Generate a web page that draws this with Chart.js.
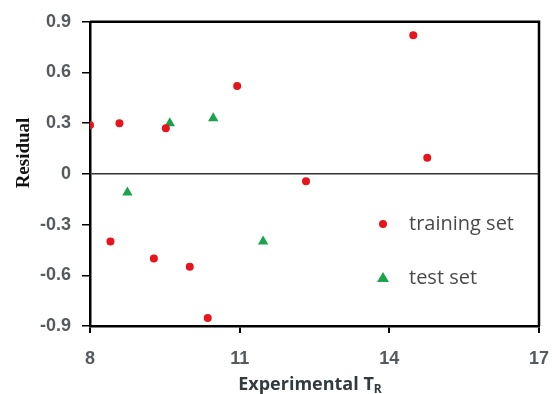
<!DOCTYPE html>
<html>
<head>
<meta charset="utf-8">
<script src="https://cdn.jsdelivr.net/npm/chart.js@4/dist/chart.umd.min.js"></script>
<style>
  html, body { margin: 0; padding: 0; background: #fff; }
  #wrap { width: 552px; height: 394px; }
</style>
</head>
<body>
<div id="wrap"><canvas id="chart" width="552" height="394"></canvas></div>
<script>
// values
const trainX = [8.0, 8.59, 9.52, 10.95, 14.48, 14.76, 12.33, 8.41, 9.28, 10.0, 10.36];
const trainY = [0.29, 0.30, 0.27, 0.52, 0.82, 0.095, -0.044, -0.40, -0.50, -0.55, -0.853];
const testX = [8.75, 9.6, 10.47, 11.47];
const testY = [-0.11, 0.30, 0.33, -0.40];
const xTicks = [8, 11, 14, 17];
const yTicks = [-0.9, -0.6, -0.3, 0, 0.3, 0.6, 0.9];
const seriesNames = ["training set", "test set"];

const toPts = (xs, ys) => xs.map((x, i) => ({ x: x, y: ys[i] }));

const tickColor = "#555a5e";
const tickFont = { family: "'Liberation Sans', Arial, sans-serif", size: 18, weight: "bold" };

// frame on top/right + legend + titles
const extras = {
  id: "extras",
  afterDraw(chart) {
    const ctx = chart.ctx;
    const a = chart.chartArea;
    ctx.save();
    ctx.strokeStyle = "#000";
    ctx.lineWidth = 2.5;
    ctx.beginPath();
    ctx.moveTo(a.left, a.top);
    ctx.lineTo(a.right, a.top);
    ctx.lineTo(a.right, a.bottom);
    ctx.stroke();

    // legend
    const items = [
      { y: 224, ds: chart.data.datasets[0] },
      { y: 278, ds: chart.data.datasets[1] }
    ];
    items.forEach(it => {
      ctx.fillStyle = it.ds.backgroundColor;
      ctx.beginPath();
      if (it.ds.pointStyle === "triangle") {
        ctx.moveTo(383, 272);
        ctx.lineTo(389, 282);
        ctx.lineTo(377, 282);
        ctx.closePath();
      } else {
        ctx.arc(383, it.y, 4, 0, Math.PI * 2);
      }
      ctx.fill();
      ctx.fillStyle = "#4a4a4a";
      ctx.font = "20px 'Open Sans', sans-serif";
      ctx.textBaseline = "middle";
      ctx.textAlign = "left";
      ctx.fillText(it.ds.label, 409, it.y);
    });

    // x title with subscript
    ctx.fillStyle = "#333a40";
    ctx.font = "bold 18px 'Open Sans', sans-serif";
    ctx.textBaseline = "alphabetic";
    const main = "Experimental T";
    const w = ctx.measureText(main).width;
    ctx.font = "bold 12px 'Open Sans', sans-serif";
    const ws = ctx.measureText("R").width;
    const x0 = 310 - (w + ws) / 2;
    ctx.font = "bold 18px 'Open Sans', sans-serif";
    ctx.fillText(main, x0, 390);
    ctx.font = "bold 12px 'Open Sans', sans-serif";
    ctx.fillText("R", x0 + w, 393);

    // y title
    ctx.translate(24, 153);
    ctx.rotate(-Math.PI / 2);
    ctx.fillStyle = "#111";
    ctx.font = "bold 19px 'Liberation Serif', 'Times New Roman', serif";
    ctx.textAlign = "center";
    ctx.textBaseline = "middle";
    ctx.fillText("Residual", 0, 0);
    ctx.restore();
  }
};

new Chart(document.getElementById("chart"), {
  type: "scatter",
  data: {
    datasets: [
      {
        label: seriesNames[0],
        data: toPts(trainX, trainY),
        backgroundColor: "#e8141b",
        borderWidth: 0,
        pointStyle: "circle",
        pointRadius: 4
      },
      {
        label: seriesNames[1],
        data: toPts(testX, testY),
        backgroundColor: "#1aa34a",
        borderWidth: 0,
        pointStyle: "triangle",
        pointRadius: 6
      }
    ]
  },
  options: {
    responsive: false,
    animation: false,
    layout: { padding: { top: 20, right: 0, left: 0, bottom: 0 } },
    plugins: { legend: { display: false }, tooltip: { enabled: false } },
    scales: {
      x: {
        type: "linear",
        min: 8,
        max: 17,
        afterBuildTicks: s => { s.ticks = xTicks.map(v => ({ value: v })); },
        afterFit: s => { s.height = 68; s.paddingRight = 13; },
        border: { color: "#000", width: 2.5 },
        grid: { drawOnChartArea: false, color: "#000", tickLength: 7, lineWidth: 2 },
        ticks: { color: tickColor, font: tickFont, padding: 15 }
      },
      y: {
        type: "linear",
        min: -0.9,
        max: 0.9,
        afterBuildTicks: s => { s.ticks = yTicks.map(v => ({ value: v })); },
        afterFit: s => { s.width = 90; },
        border: { color: "#000", width: 2.5 },
        grid: {
          drawOnChartArea: true,
          color: c => (c.tick && c.tick.value === 0 ? "#333" : "rgba(0,0,0,0)"),
          tickColor: "#000",
          lineWidth: 1.5,
          tickLength: 8
        },
        ticks: {
          color: tickColor,
          font: tickFont,
          padding: 11,
          callback: v => (v === 0 ? "0" : v.toFixed(1))
        }
      }
    }
  },
  plugins: [extras]
});
</script>
</body>
</html>
